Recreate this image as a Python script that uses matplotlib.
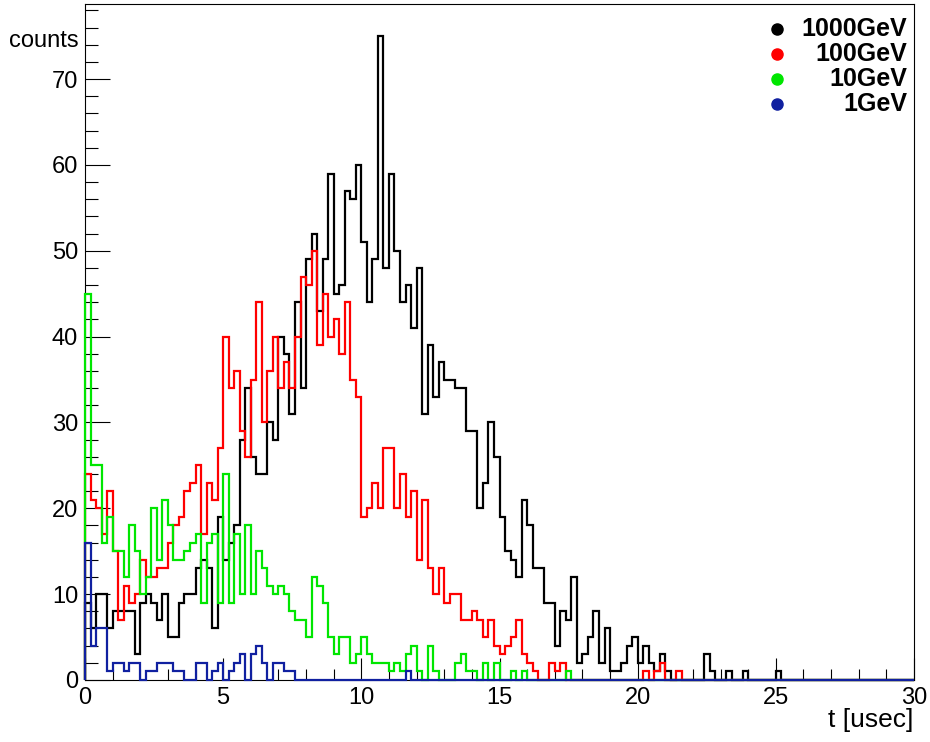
import numpy as np
import matplotlib
matplotlib.use("Agg")
from matplotlib import pyplot as plt
from matplotlib.ticker import MultipleLocator

plt.rcParams['font.family'] = ['Liberation Sans', 'DejaVu Sans']

# 150 bins of 0.2 usec between 0 and 30
t_min, t_max, n_bins = 0.0, 30.0, 150

counts_1000 = [
    9, 6, 10, 10, 6, 8, 8, 8, 8, 3, 9, 10, 9, 7, 10, 5, 5, 9, 10, 10,
    13, 14, 13, 6, 19, 14, 16, 18, 28, 34, 26, 24, 24, 30, 28, 40, 38, 31, 44, 34,
    49, 52, 43, 49, 59, 45, 46, 57, 56, 60, 51, 44, 49, 75, 48, 59, 50, 44, 46, 41,
    48, 31, 39, 33, 37, 35, 35, 34, 34, 29, 29, 20, 23, 30, 26, 19, 15, 14, 12, 21,
    18, 13, 13, 9, 9, 4, 8, 7, 12, 2, 3, 5, 8, 2, 6, 1, 1, 2, 4, 5,
    2, 4, 2, 1, 3, 1, 0, 0, 0, 0, 0, 0, 3, 1, 0, 0, 1, 0, 0, 1,
    0, 0, 0, 0, 0, 1, 0, 0, 0, 0, 0, 0, 0, 0, 0, 0, 0, 0, 0, 0,
    0, 0, 0, 0, 0, 0, 0, 0, 0, 0,
]
counts_100 = [
    24, 21, 20, 17, 22, 15, 7, 11, 9, 10, 14, 12, 12, 13, 13, 16, 18, 19, 22, 23,
    25, 17, 23, 21, 27, 40, 34, 36, 29, 26, 35, 44, 30, 36, 40, 34, 37, 34, 40, 47,
    46, 50, 39, 45, 40, 42, 38, 44, 35, 33, 19, 20, 23, 20, 27, 27, 20, 24, 19, 22,
    14, 21, 13, 10, 13, 9, 10, 10, 7, 7, 8, 7, 5, 7, 4, 3, 4, 5, 7, 3,
    2, 1, 0, 0, 2, 1, 2, 0, 0, 0, 0, 0, 0, 0, 0, 0, 0, 0, 0, 0,
    0, 1, 0, 1, 2, 0, 0, 1, 0, 0, 0, 0, 0, 0, 0, 0, 0, 0, 0, 0,
    0, 0, 0, 0, 0, 0, 0, 0, 0, 0, 0, 0, 0, 0, 0, 0, 0, 0, 0, 0,
    0, 0, 0, 0, 0, 0, 0, 0, 0, 0,
]
counts_10 = [
    45, 25, 25, 16, 19, 15, 15, 12, 18, 15, 10, 12, 20, 14, 21, 18, 14, 14, 15, 16,
    17, 9, 16, 17, 9, 24, 9, 17, 10, 18, 10, 15, 13, 11, 10, 11, 10, 8, 7, 7,
    5, 12, 11, 9, 5, 3, 5, 5, 2, 3, 5, 3, 2, 2, 2, 1, 2, 1, 3, 4,
    1, 0, 4, 1, 0, 0, 0, 2, 3, 1, 1, 0, 2, 0, 2, 0, 0, 1, 0, 1,
    0, 0, 0, 0, 0, 0, 0, 1, 0, 0, 0, 0, 0, 0, 0, 0, 0, 0, 0, 0,
    0, 0, 0, 0, 0, 0, 0, 0, 0, 0, 0, 0, 0, 0, 0, 0, 0, 0, 0, 0,
    0, 0, 0, 0, 0, 0, 0, 0, 0, 0, 0, 0, 0, 0, 0, 0, 0, 0, 0, 0,
    0, 0, 0, 0, 0, 0, 0, 0, 0, 0,
]
counts_1 = [
    16, 4, 6, 6, 1, 2, 2, 1, 2, 2, 0, 1, 1, 2, 2, 2, 1, 1, 0, 0,
    2, 2, 0, 1, 2, 0, 1, 2, 3, 0, 3, 4, 2, 0, 2, 2, 1, 1, 0, 0,
    0, 0, 0, 0, 0, 0, 0, 0, 0, 0, 0, 0, 0, 0, 0, 0, 0, 0, 1, 0,
    0, 0, 0, 0, 0, 0, 0, 0, 0, 0, 0, 0, 0, 0, 0, 0, 0, 0, 0, 0,
    0, 0, 0, 0, 0, 0, 0, 0, 0, 0, 0, 0, 0, 0, 0, 0, 0, 0, 0, 0,
    0, 0, 0, 0, 0, 0, 0, 0, 0, 0, 0, 0, 0, 0, 0, 0, 0, 0, 0, 0,
    0, 0, 0, 0, 0, 0, 0, 0, 0, 0, 0, 0, 0, 0, 0, 0, 0, 0, 0, 0,
    0, 0, 0, 0, 0, 0, 0, 0, 0, 0,
]

labels = ['1000GeV', '100GeV', '10GeV', '1GeV']
colors = ['black', '#ff0000', '#00e600', '#1020a0']
series = [counts_1000, counts_100, counts_10, counts_1]

W, H = 930, 742
fig = plt.figure(figsize=(W / 100, H / 100), dpi=100)
ax = fig.add_axes([85 / W, 62 / H, 829 / W, 676 / H])

edges = np.linspace(t_min, t_max, n_bins + 1)
for vals, col in zip(series, colors):
    # drawn above the frame so the last (1GeV) one lies on the x axis
    ax.stairs(vals, edges, baseline=0, color=col, lw=1.6, zorder=3,
              clip_on=False)

ax.set_xlim(t_min, t_max)
ax.set_ylim(0, 78.75)

ax.xaxis.set_major_locator(MultipleLocator(5))
ax.xaxis.set_minor_locator(MultipleLocator(1))
ax.yaxis.set_major_locator(MultipleLocator(10))
ax.yaxis.set_minor_locator(MultipleLocator(2))
ax.tick_params(axis='x', which='major', direction='in', length=16, width=0.8,
               labelsize=17, pad=5)
ax.tick_params(axis='x', which='minor', direction='in', length=8, width=0.8)
ax.tick_params(axis='y', which='major', direction='in', length=18, width=0.8,
               labelsize=17, pad=5)
ax.tick_params(axis='y', which='minor', direction='in', length=9, width=0.8)
for s in ax.spines.values():
    s.set_linewidth(0.8)

fig.text(79 / W, 1 - 47 / H, 'counts', ha='right', va='baseline', fontsize=17)
fig.text(913 / W, 1 - 727 / H, 't [usec]', ha='right', va='baseline', fontsize=19)

# legend, text right aligned, markers in one column
for i, (lab, col) in enumerate(zip(labels, colors)):
    yc = 1 - (29 + 25 * i) / H
    fig.text(907 / W, yc, lab, ha='right', va='center', fontsize=18,
             fontweight='bold')
    ax.plot([777 / W], [yc], 'o', color=col, ms=8, transform=fig.transFigure,
            clip_on=False)

fig.savefig('out.png', dpi=100)
